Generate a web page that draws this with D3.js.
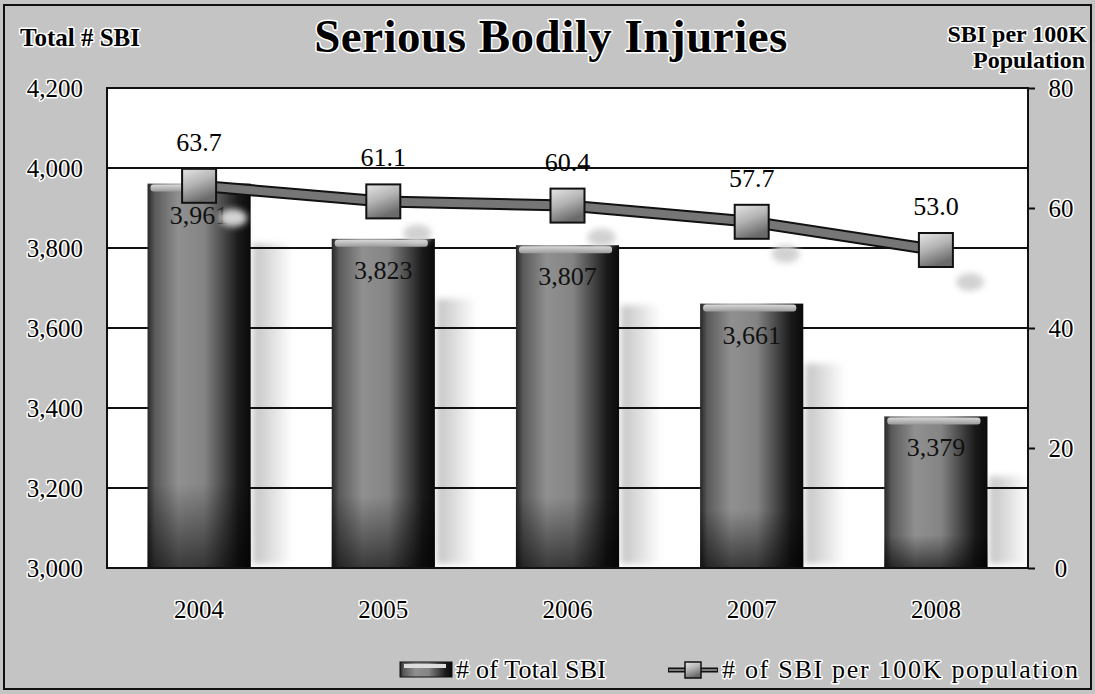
<!DOCTYPE html>
<html>
<head>
<meta charset="utf-8">
<script src="https://cdn.jsdelivr.net/npm/d3@7"></script>
<style>
  html, body { margin: 0; padding: 0; background: #fff; }
  svg { display: block; font-family: "Liberation Serif", "DejaVu Serif", serif; }
  .halo { paint-order: stroke; stroke: #fff; stroke-width: 3px; stroke-linejoin: round; }
</style>
</head>
<body>
<svg id="chart" width="1095" height="694"></svg>
<script>
// ── Data ──────────────────────────────────────────────────────────────────────
const years      = ["2004", "2005", "2006", "2007", "2008"];
const totalSBI   = [3961, 3823, 3807, 3661, 3379];
const sbiPer100K = [63.7, 61.1, 60.4, 57.7, 53.0];
const leftTicks  = [3000, 3200, 3400, 3600, 3800, 4000, 4200];
const rightTicks = [0, 20, 40, 60, 80];

const rows = years.map((y, i) => ({ year: y, total: totalSBI[i], rate: sbiPer100K[i] }));

// ── Layout ────────────────────────────────────────────────────────────────────
const VW = 1095, VH = 694;
const M  = { top: 88, right: 67, bottom: 126, left: 107 };
const X0 = M.left, X1 = VW - M.right, Y0 = VH - M.bottom, Y1 = M.top;

const svg  = d3.select("#chart");
const defs = svg.append("defs");

const x  = d3.scaleBand().domain(years).range([X0, X1]).paddingInner(0.44).paddingOuter(0.22);
const yL = d3.scaleLinear().domain([3000, 4200]).range([Y0, Y1]);
const yR = d3.scaleLinear().domain([0, 80]).range([Y0, Y1]);

// gradients
const barGrad = defs.append("linearGradient").attr("id", "barGrad");
[[0, "#262626"], [0.07, "#5a5a5a"], [0.3, "#909090"], [0.55, "#848484"],
 [0.75, "#444"], [0.88, "#1a1a1a"], [1, "#0a0a0a"]]
  .forEach(([o, c]) => barGrad.append("stop").attr("offset", o).attr("stop-color", c));

const barShade = defs.append("linearGradient").attr("id", "barShade")
  .attr("x1", 0).attr("y1", 0).attr("x2", 0).attr("y2", 1);
[[0, "#000", 0], [0.78, "#000", 0], [1, "#000", 0.6]]
  .forEach(([o, c, op]) => barShade.append("stop").attr("offset", o)
    .attr("stop-color", c).attr("stop-opacity", op));

const topGrad = defs.append("linearGradient").attr("id", "topGrad")
  .attr("x1", 0).attr("y1", 0).attr("x2", 0).attr("y2", 1);
[[0, "#d8d8d8"], [1, "#9a9a9a"]]
  .forEach(([o, c]) => topGrad.append("stop").attr("offset", o).attr("stop-color", c));

const mkGrad = defs.append("linearGradient").attr("id", "mkGrad")
  .attr("x1", 0).attr("y1", 0).attr("x2", 0.4).attr("y2", 1);
[[0, "#e6e6e6"], [0.5, "#b4b4b4"], [1, "#6a6a6a"]]
  .forEach(([o, c]) => mkGrad.append("stop").attr("offset", o).attr("stop-color", c));

const shadowGrad = defs.append("linearGradient").attr("id", "shadowGrad");
[[0, "#bdbdbd", 0.9], [1, "#bdbdbd", 0]]
  .forEach(([o, c, op]) => shadowGrad.append("stop").attr("offset", o)
    .attr("stop-color", c).attr("stop-opacity", op));

defs.append("filter").attr("id", "soft").attr("x", "-30%").attr("y", "-30%")
  .attr("width", "160%").attr("height", "160%")
  .append("feGaussianBlur").attr("stdDeviation", 3);

// ── Background + frame ────────────────────────────────────────────────────────
svg.append("rect").attr("width", VW).attr("height", VH).attr("fill", "#c4c4c4");
svg.append("rect").attr("x", 4).attr("y", 5).attr("width", VW - 8).attr("height", VH - 10)
  .attr("fill", "none").attr("stroke", "#111").attr("stroke-width", 2);

svg.append("rect").attr("x", X0).attr("y", Y1).attr("width", X1 - X0).attr("height", Y0 - Y1)
  .attr("fill", "#fff");

// bar shadows (behind gridlines)
const shG = svg.append("g").attr("filter", "url(#soft)");
shG.selectAll("rect").data(rows).join("rect")
  .attr("x", d => x(d.year) + x.bandwidth() + 2)
  .attr("y", d => yL(d.total) + 60)
  .attr("width", 40)
  .attr("height", d => Math.max(0, Y0 - yL(d.total) - 64))
  .attr("fill", "url(#shadowGrad)");

// gridlines
svg.append("g").selectAll("line").data(leftTicks.slice(1, -1)).join("line")
  .attr("x1", X0).attr("x2", X1)
  .attr("y1", d => yL(d)).attr("y2", d => yL(d))
  .attr("stroke", "#111").attr("stroke-width", 2);

// ── Bars ──────────────────────────────────────────────────────────────────────
const bars = svg.append("g");
bars.selectAll("rect.bar").data(rows).join("rect").attr("class", "bar")
  .attr("x", d => x(d.year)).attr("y", d => yL(d.total))
  .attr("width", x.bandwidth()).attr("height", d => Y0 - yL(d.total))
  .attr("fill", "url(#barGrad)");
bars.selectAll("rect.shade").data(rows).join("rect").attr("class", "shade")
  .attr("x", d => x(d.year)).attr("y", d => yL(d.total))
  .attr("width", x.bandwidth()).attr("height", d => Y0 - yL(d.total))
  .attr("fill", "url(#barShade)");
bars.selectAll("rect.top").data(rows).join("rect").attr("class", "top")
  .attr("x", d => x(d.year) + 3).attr("y", d => yL(d.total) + 1)
  .attr("width", x.bandwidth() - 10).attr("height", 7).attr("rx", 3)
  .attr("fill", "url(#topGrad)");

bars.selectAll("text").data(rows).join("text")
  .attr("x", d => x(d.year) + x.bandwidth() / 2)
  .attr("y", d => yL(d.total) + 40)
  .attr("text-anchor", "middle").attr("font-size", 26).attr("fill", "#111")
  .text(d => d3.format(",")(d.total));

// ── Axes frame ────────────────────────────────────────────────────────────────
svg.append("rect").attr("x", X0).attr("y", Y1).attr("width", X1 - X0).attr("height", Y0 - Y1)
  .attr("fill", "none").attr("stroke", "#111").attr("stroke-width", 2);

const axL = svg.append("g").attr("transform", `translate(${X0},0)`)
  .call(d3.axisLeft(yL).tickValues(leftTicks).tickFormat(d3.format(",")).tickSize(0).tickPadding(24));
const axR = svg.append("g").attr("transform", `translate(${X1},0)`)
  .call(d3.axisRight(yR).tickValues(rightTicks).tickSize(7).tickPadding(20));
const axB = svg.append("g").attr("transform", `translate(0,${Y0})`)
  .call(d3.axisBottom(x).tickSize(0).tickPadding(32));

[axL, axR, axB].forEach(ax => {
  ax.select(".domain").remove();
  ax.selectAll("text").attr("font-size", 25).attr("fill", "#000")
    .attr("font-family", "Liberation Serif").attr("class", "halo");
  ax.selectAll("line").attr("stroke", "#111").attr("stroke-width", 2);
});
axR.selectAll("text").attr("text-anchor", "middle").attr("x", 33);

// ── Line series ───────────────────────────────────────────────────────────────
const line = d3.line()
  .x(d => x(d.year) + x.bandwidth() / 2)
  .y(d => yR(d.rate));

const lineG = svg.append("g");
// marker shadows
lineG.selectAll("ellipse").data(rows).join("ellipse")
  .attr("cx", d => x(d.year) + x.bandwidth() / 2 + 34)
  .attr("cy", d => yR(d.rate) + 32)
  .attr("rx", 14).attr("ry", 9).attr("fill", "#d2d2d2").attr("filter", "url(#soft)");
lineG.append("path").datum(rows).attr("d", line)
  .attr("fill", "none").attr("stroke", "#111").attr("stroke-width", 12);
lineG.append("path").datum(rows).attr("d", line)
  .attr("fill", "none").attr("stroke", "#767676").attr("stroke-width", 8);

const S = 34;
lineG.selectAll("rect").data(rows).join("rect")
  .attr("x", d => x(d.year) + x.bandwidth() / 2 - S / 2)
  .attr("y", d => yR(d.rate) - S / 2)
  .attr("width", S).attr("height", S)
  .attr("fill", "url(#mkGrad)").attr("stroke", "#111").attr("stroke-width", 2);

lineG.selectAll("text").data(rows).join("text")
  .attr("x", d => x(d.year) + x.bandwidth() / 2)
  .attr("y", d => yR(d.rate) - 35)
  .attr("text-anchor", "middle").attr("font-size", 26).attr("fill", "#000")
  .text(d => d3.format(".1f")(d.rate));

// ── Titles ────────────────────────────────────────────────────────────────────
svg.append("text").attr("x", 551).attr("y", 52).attr("text-anchor", "middle")
  .attr("font-size", 47).attr("font-weight", "bold").attr("letter-spacing", 0.5)
  .attr("class", "halo").text("Serious Bodily Injuries");
svg.append("text").attr("x", 20).attr("y", 46)
  .attr("font-size", 25).attr("font-weight", "bold").attr("class", "halo")
  .text("Total # SBI");
const rt = svg.append("text").attr("text-anchor", "end").attr("font-size", 24)
  .attr("font-weight", "bold").attr("class", "halo");
rt.append("tspan").attr("x", 1087).attr("y", 42).text("SBI per 100K");
rt.append("tspan").attr("x", 1085).attr("y", 68).text("Population");

// ── Legend ────────────────────────────────────────────────────────────────────
const leg = svg.append("g").attr("transform", `translate(0,${VH - 24})`);
leg.append("rect").attr("x", 400).attr("y", -8).attr("width", 52).attr("height", 15)
  .attr("fill", "url(#barGrad)").attr("stroke", "#111").attr("stroke-width", 1);
leg.append("rect").attr("x", 404).attr("y", -6).attr("width", 42).attr("height", 4)
  .attr("fill", "#ddd");
leg.append("text").attr("x", 456).attr("y", 8).attr("font-size", 26)
  .attr("textLength", 150).attr("lengthAdjust", "spacing")
  .attr("class", "halo").text("# of Total SBI");

leg.append("line").attr("x1", 668).attr("x2", 718).attr("y1", 0).attr("y2", 0)
  .attr("stroke", "#111").attr("stroke-width", 5);
leg.append("line").attr("x1", 669).attr("x2", 717).attr("y1", 0).attr("y2", 0)
  .attr("stroke", "#7a7a7a").attr("stroke-width", 2);
leg.append("rect").attr("x", 685).attr("y", -8).attr("width", 16).attr("height", 16)
  .attr("fill", "url(#mkGrad)").attr("stroke", "#111").attr("stroke-width", 1.5);
leg.append("text").attr("x", 722).attr("y", 8).attr("font-size", 26)
  .attr("textLength", 356).attr("lengthAdjust", "spacing")
  .attr("class", "halo").text("# of SBI per 100K population");
</script>
</body>
</html>
